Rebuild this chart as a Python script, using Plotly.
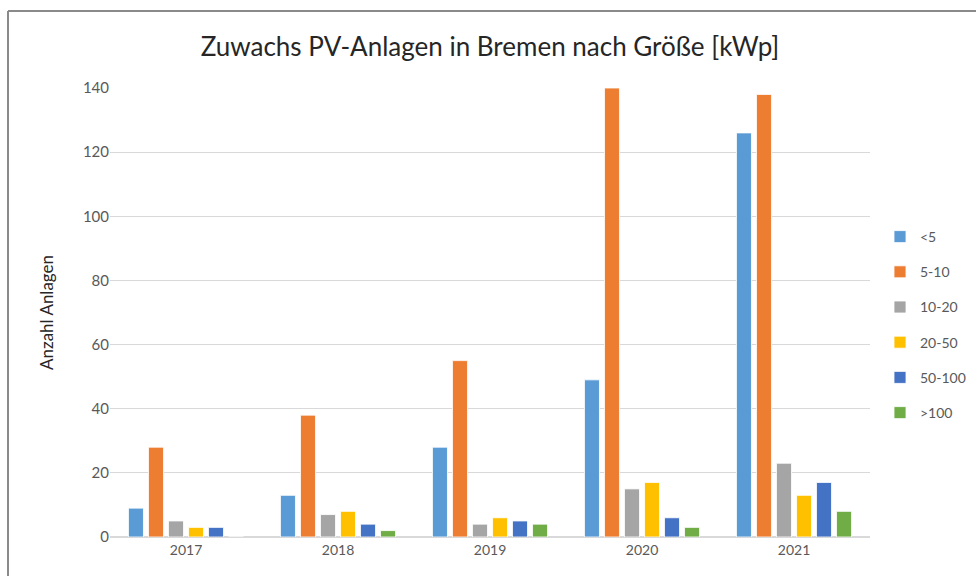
import plotly.graph_objects as go

years = ["2017", "2018", "2019", "2020", "2021"]
series_names = ["<5", "5-10", "10-20", "20-50", "50-100", ">100"]
v_lt5 = [9, 13, 28, 49, 126]
v_5_10 = [28, 38, 55, 140, 138]
v_10_20 = [5, 7, 4, 15, 23]
v_20_50 = [3, 8, 6, 17, 13]
v_50_100 = [3, 4, 5, 6, 17]
v_gt100 = [0, 2, 4, 3, 8]
colors = ["#5B9BD5", "#ED7D31", "#A5A5A5", "#FFC000", "#4472C4", "#70AD47"]

values = [v_lt5, v_5_10, v_10_20, v_20_50, v_50_100, v_gt100]

W, H = 976, 576
L, R, T, B = 110, 106, 88, 39
pw, ph = W - L - R, H - T - B

def px(x):
    return (x - L) / pw

def py(y):
    return (H - B - y) / ph

fig = go.Figure()
for name, vals, col in zip(series_names, values, colors):
    fig.add_trace(go.Bar(
        x=years, y=vals, name=name, legendgroup=name,
        marker=dict(color=col, line=dict(color="rgba(255,255,255,0.8)", width=1)),
    ))

fig.update_layout(
    width=W, height=H,
    margin=dict(l=L, r=R, t=T, b=B, autoexpand=False),
    paper_bgcolor="white", plot_bgcolor="white",
    font=dict(family="Lato, 'Open Sans', sans-serif", color="#595959", size=13),
    title=dict(text="Zuwachs PV-Anlagen in Bremen nach Größe [kWp]",
               x=0.5, xref="paper", xanchor="center", y=1 - 47 / H, yref="container", yanchor="middle",
               font=dict(size=26, color="#262626")),
    barmode="group", bargap=0.21, bargroupgap=0.25,
    xaxis=dict(showgrid=False, showline=True, linecolor="#d9d9d9", linewidth=1,
               ticks="", tickfont=dict(size=14, color="#595959"), automargin=False),
    yaxis=dict(range=[0, 140], dtick=20, showgrid=True, gridcolor="#d9d9d9", gridwidth=1,
               zeroline=True, zerolinecolor="#d9d9d9", ticks="", automargin=False,
               tickfont=dict(size=15, color="#595959"),
               title=dict(text="Anzahl Anlagen", standoff=24, font=dict(size=17, color="#262626"))),
    legend=dict(x=px(880), xanchor="left", y=py(325), yanchor="middle",
                font=dict(size=14, color="#595959"), tracegroupgap=14,
                itemwidth=30, bgcolor="rgba(0,0,0,0)"),
    shapes=[
        dict(type="line", xref="paper", yref="paper", x0=px(8), x1=px(8), y0=py(576), y1=py(11),
             line=dict(color="#8a8a8a", width=2)),
        dict(type="line", xref="paper", yref="paper", x0=px(8), x1=px(976), y0=py(11), y1=py(11),
             line=dict(color="#8a8a8a", width=2)),
    ],
)

fig.write_html("out.html", config={"displayModeBar": False},
               post_script="document.body.style.margin='0';document.body.style.overflow='hidden';")
